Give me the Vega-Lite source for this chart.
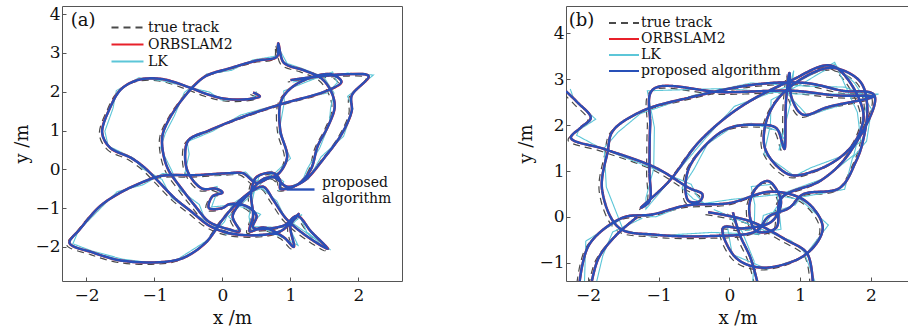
{
"$schema": "https://vega.github.io/schema/vega-lite/v6.json",
"background": "white",
"padding": {"left": 13, "top": 4, "right": 1, "bottom": 0},
"spacing": 164,
"bounds": "flush",
"config": {
 "view": {"stroke": "#555", "strokeWidth": 1},
 "axis": {"grid": false, "domain": false, "labelFont": "DejaVu Serif", "labelFontSize": 17, "labelColor": "#111", "tickColor": "#555", "tickSize": -4, "titleFont": "DejaVu Serif", "titleFontSize": 18, "titleFontWeight": "normal", "titleColor": "#111"},
 "axisY": {"titlePadding": 3, "labelPadding": 6},
 "axisX": {"titlePadding": 6, "labelPadding": 10},
 "legend": {"labelFont": "DejaVu Serif", "labelFontSize": 14, "labelColor": "#111", "symbolType": "M-2,0H2", "symbolStrokeWidth": 2.2, "rowPadding": 0, "padding": 0}
},
"datasets": {
"a": [
{"i":1,"x":0.45,"y":1.98,"tx":0.41,"ty":1.93,"lx":0.49,"ly":2.01},
{"i":2,"x":0.55,"y":1.88,"tx":0.51,"ty":1.83,"lx":0.52,"ly":1.93},
{"i":3,"x":0.30,"y":1.80,"tx":0.26,"ty":1.75,"lx":0.35,"ly":1.78},
{"i":4,"x":0.00,"y":1.83,"tx":-0.04,"ty":1.78,"lx":-0.02,"ly":1.79},
{"i":5,"x":-0.25,"y":1.95,"tx":-0.29,"ty":1.90,"lx":-0.19,"ly":1.99},
{"i":6,"x":-0.50,"y":2.12,"tx":-0.54,"ty":2.07,"lx":-0.55,"ly":2.14},
{"i":7,"x":-0.90,"y":2.33,"tx":-0.94,"ty":2.28,"lx":-0.87,"ly":2.28},
{"i":8,"x":-1.25,"y":2.30,"tx":-1.29,"ty":2.25,"lx":-1.23,"ly":2.36},
{"i":9,"x":-1.50,"y":2.05,"tx":-1.54,"ty":2.00,"lx":-1.56,"ly":2.03},
{"i":10,"x":-1.65,"y":1.60,"tx":-1.69,"ty":1.55,"lx":-1.61,"ly":1.57},
{"i":11,"x":-1.77,"y":0.95,"tx":-1.81,"ty":0.90,"lx":-1.73,"ly":0.98},
{"i":12,"x":-1.65,"y":0.55,"tx":-1.69,"ty":0.50,"lx":-1.68,"ly":0.60},
{"i":13,"x":-1.35,"y":0.30,"tx":-1.39,"ty":0.25,"lx":-1.30,"ly":0.28},
{"i":14,"x":-1.15,"y":0.05,"tx":-1.19,"ty":0.00,"lx":-1.17,"ly":0.01},
{"i":15,"x":-0.95,"y":-0.30,"tx":-0.99,"ty":-0.35,"lx":-0.89,"ly":-0.26},
{"i":16,"x":-0.70,"y":-0.75,"tx":-0.74,"ty":-0.80,"lx":-0.75,"ly":-0.73},
{"i":17,"x":-0.45,"y":-1.10,"tx":-0.49,"ty":-1.15,"lx":-0.42,"ly":-1.15},
{"i":18,"x":-0.20,"y":-1.45,"tx":-0.24,"ty":-1.50,"lx":-0.18,"ly":-1.39},
{"i":19,"x":0.10,"y":-1.65,"tx":0.06,"ty":-1.70,"lx":0.04,"ly":-1.67},
{"i":20,"x":0.50,"y":-1.70,"tx":0.46,"ty":-1.75,"lx":0.54,"ly":-1.73},
{"i":21,"x":0.85,"y":-1.60,"tx":0.81,"ty":-1.65,"lx":0.89,"ly":-1.57},
{"i":22,"x":1.05,"y":-1.30,"tx":1.01,"ty":-1.35,"lx":1.02,"ly":-1.25},
{"i":23,"x":1.12,"y":-1.15,"tx":1.08,"ty":-1.20,"lx":1.17,"ly":-1.17},
{"i":24,"x":1.00,"y":-1.45,"tx":0.96,"ty":-1.50,"lx":0.98,"ly":-1.49},
{"i":25,"x":1.05,"y":-2.00,"tx":1.01,"ty":-2.05,"lx":1.11,"ly":-1.96},
{"i":26,"x":0.90,"y":-1.75,"tx":0.86,"ty":-1.80,"lx":0.85,"ly":-1.73},
{"i":27,"x":0.60,"y":-1.50,"tx":0.56,"ty":-1.55,"lx":0.63,"ly":-1.55},
{"i":28,"x":0.40,"y":-1.60,"tx":0.36,"ty":-1.65,"lx":0.42,"ly":-1.54},
{"i":29,"x":0.45,"y":-1.20,"tx":0.41,"ty":-1.25,"lx":0.39,"ly":-1.22},
{"i":30,"x":0.42,"y":-0.60,"tx":0.38,"ty":-0.65,"lx":0.46,"ly":-0.63},
{"i":31,"x":0.50,"y":-0.20,"tx":0.46,"ty":-0.25,"lx":0.54,"ly":-0.17},
{"i":32,"x":0.75,"y":-0.10,"tx":0.71,"ty":-0.15,"lx":0.72,"ly":-0.05},
{"i":33,"x":0.85,"y":-0.30,"tx":0.81,"ty":-0.35,"lx":0.90,"ly":-0.32},
{"i":34,"x":0.85,"y":-0.50,"tx":0.81,"ty":-0.55,"lx":0.83,"ly":-0.54},
{"i":35,"x":1.10,"y":-0.40,"tx":1.06,"ty":-0.45,"lx":1.16,"ly":-0.36},
{"i":36,"x":1.30,"y":0.00,"tx":1.26,"ty":-0.05,"lx":1.25,"ly":0.02},
{"i":37,"x":1.40,"y":0.60,"tx":1.36,"ty":0.55,"lx":1.43,"ly":0.55},
{"i":38,"x":1.55,"y":1.10,"tx":1.51,"ty":1.05,"lx":1.57,"ly":1.16},
{"i":39,"x":1.65,"y":1.60,"tx":1.61,"ty":1.55,"lx":1.59,"ly":1.58},
{"i":40,"x":1.60,"y":2.00,"tx":1.56,"ty":1.95,"lx":1.64,"ly":1.97},
{"i":41,"x":1.45,"y":2.35,"tx":1.41,"ty":2.30,"lx":1.49,"ly":2.38},
{"i":42,"x":1.20,"y":2.55,"tx":1.16,"ty":2.50,"lx":1.17,"ly":2.60},
{"i":43,"x":0.90,"y":2.75,"tx":0.86,"ty":2.70,"lx":0.95,"ly":2.73},
{"i":44,"x":0.82,"y":3.25,"tx":0.78,"ty":3.20,"lx":0.80,"ly":3.21},
{"i":45,"x":0.80,"y":2.90,"tx":0.76,"ty":2.85,"lx":0.86,"ly":2.94},
{"i":46,"x":0.50,"y":2.80,"tx":0.46,"ty":2.75,"lx":0.45,"ly":2.82},
{"i":47,"x":0.10,"y":2.60,"tx":0.06,"ty":2.55,"lx":0.13,"ly":2.55},
{"i":48,"x":-0.25,"y":2.40,"tx":-0.29,"ty":2.35,"lx":-0.23,"ly":2.46},
{"i":49,"x":-0.50,"y":2.00,"tx":-0.54,"ty":1.95,"lx":-0.56,"ly":1.98},
{"i":50,"x":-0.75,"y":1.40,"tx":-0.79,"ty":1.35,"lx":-0.71,"ly":1.37},
{"i":51,"x":-0.88,"y":0.90,"tx":-0.92,"ty":0.85,"lx":-0.84,"ly":0.93},
{"i":52,"x":-0.88,"y":0.50,"tx":-0.92,"ty":0.45,"lx":-0.91,"ly":0.55},
{"i":53,"x":-0.80,"y":0.00,"tx":-0.84,"ty":-0.05,"lx":-0.75,"ly":-0.02},
{"i":54,"x":-0.60,"y":-0.50,"tx":-0.64,"ty":-0.55,"lx":-0.62,"ly":-0.54},
{"i":55,"x":-0.40,"y":-0.95,"tx":-0.44,"ty":-1.00,"lx":-0.34,"ly":-0.91},
{"i":56,"x":-0.20,"y":-1.35,"tx":-0.24,"ty":-1.40,"lx":-0.25,"ly":-1.33},
{"i":57,"x":0.10,"y":-1.55,"tx":0.06,"ty":-1.60,"lx":0.13,"ly":-1.60},
{"i":58,"x":0.25,"y":-1.60,"tx":0.21,"ty":-1.65,"lx":0.27,"ly":-1.54},
{"i":59,"x":0.15,"y":-1.20,"tx":0.11,"ty":-1.25,"lx":0.09,"ly":-1.22},
{"i":60,"x":0.40,"y":-0.60,"tx":0.36,"ty":-0.65,"lx":0.44,"ly":-0.63},
{"i":61,"x":0.60,"y":-0.25,"tx":0.56,"ty":-0.30,"lx":0.64,"ly":-0.22},
{"i":62,"x":0.80,"y":-0.15,"tx":0.76,"ty":-0.20,"lx":0.77,"ly":-0.10},
{"i":63,"x":0.95,"y":0.30,"tx":0.91,"ty":0.25,"lx":1.00,"ly":0.28},
{"i":64,"x":0.85,"y":1.00,"tx":0.81,"ty":0.95,"lx":0.83,"ly":0.96},
{"i":65,"x":0.85,"y":1.70,"tx":0.81,"ty":1.65,"lx":0.91,"ly":1.74},
{"i":66,"x":0.95,"y":2.00,"tx":0.91,"ty":1.95,"lx":0.90,"ly":2.02},
{"i":67,"x":1.20,"y":2.30,"tx":1.16,"ty":2.25,"lx":1.23,"ly":2.25},
{"i":68,"x":1.60,"y":2.45,"tx":1.56,"ty":2.40,"lx":1.62,"ly":2.51},
{"i":69,"x":1.75,"y":2.25,"tx":1.71,"ty":2.20,"lx":1.69,"ly":2.23},
{"i":70,"x":1.50,"y":2.00,"tx":1.46,"ty":1.95,"lx":1.54,"ly":1.97},
{"i":71,"x":0.90,"y":1.70,"tx":0.86,"ty":1.65,"lx":0.94,"ly":1.73},
{"i":72,"x":0.30,"y":1.35,"tx":0.26,"ty":1.30,"lx":0.27,"ly":1.40},
{"i":73,"x":-0.20,"y":1.00,"tx":-0.24,"ty":0.95,"lx":-0.15,"ly":0.98},
{"i":74,"x":-0.50,"y":0.75,"tx":-0.54,"ty":0.70,"lx":-0.52,"ly":0.71},
{"i":75,"x":-0.55,"y":0.35,"tx":-0.59,"ty":0.30,"lx":-0.49,"ly":0.39},
{"i":76,"x":-0.50,"y":-0.10,"tx":-0.54,"ty":-0.15,"lx":-0.55,"ly":-0.08},
{"i":77,"x":-0.30,"y":-0.50,"tx":-0.34,"ty":-0.55,"lx":-0.27,"ly":-0.55},
{"i":78,"x":-0.10,"y":-0.50,"tx":-0.14,"ty":-0.55,"lx":-0.08,"ly":-0.44},
{"i":79,"x":0.00,"y":-0.60,"tx":-0.04,"ty":-0.65,"lx":-0.06,"ly":-0.62},
{"i":80,"x":-0.15,"y":-0.70,"tx":-0.19,"ty":-0.75,"lx":-0.11,"ly":-0.73},
{"i":81,"x":-0.20,"y":-1.00,"tx":-0.24,"ty":-1.05,"lx":-0.16,"ly":-0.97},
{"i":82,"x":0.00,"y":-1.00,"tx":-0.04,"ty":-1.05,"lx":-0.03,"ly":-0.95},
{"i":83,"x":0.10,"y":-0.90,"tx":0.06,"ty":-0.95,"lx":0.15,"ly":-0.92},
{"i":84,"x":0.35,"y":-0.95,"tx":0.31,"ty":-1.00,"lx":0.33,"ly":-0.99},
{"i":85,"x":0.50,"y":-1.20,"tx":0.46,"ty":-1.25,"lx":0.56,"ly":-1.16},
{"i":86,"x":0.45,"y":-1.50,"tx":0.41,"ty":-1.55,"lx":0.40,"ly":-1.48},
{"i":87,"x":0.90,"y":-1.45,"tx":0.86,"ty":-1.50,"lx":0.93,"ly":-1.50},
{"i":88,"x":1.10,"y":-1.20,"tx":1.06,"ty":-1.25,"lx":1.12,"ly":-1.14},
{"i":89,"x":1.30,"y":-1.60,"tx":1.26,"ty":-1.65,"lx":1.24,"ly":-1.62},
{"i":90,"x":1.55,"y":-2.05,"tx":1.51,"ty":-2.10,"lx":1.59,"ly":-2.08},
{"i":91,"x":1.30,"y":-1.80,"tx":1.26,"ty":-1.85,"lx":1.34,"ly":-1.77},
{"i":92,"x":0.95,"y":-1.30,"tx":0.91,"ty":-1.35,"lx":0.92,"ly":-1.25},
{"i":93,"x":0.75,"y":-0.80,"tx":0.71,"ty":-0.85,"lx":0.80,"ly":-0.82},
{"i":94,"x":0.60,"y":-0.45,"tx":0.56,"ty":-0.50,"lx":0.58,"ly":-0.49},
{"i":95,"x":0.40,"y":-0.60,"tx":0.36,"ty":-0.65,"lx":0.46,"ly":-0.56},
{"i":96,"x":0.20,"y":-0.90,"tx":0.16,"ty":-0.95,"lx":0.15,"ly":-0.88},
{"i":97,"x":0.00,"y":-1.30,"tx":-0.04,"ty":-1.35,"lx":0.03,"ly":-1.35},
{"i":98,"x":-0.25,"y":-1.90,"tx":-0.29,"ty":-1.95,"lx":-0.23,"ly":-1.84},
{"i":99,"x":-0.60,"y":-2.30,"tx":-0.64,"ty":-2.35,"lx":-0.66,"ly":-2.32},
{"i":100,"x":-1.00,"y":-2.40,"tx":-1.04,"ty":-2.45,"lx":-0.96,"ly":-2.43},
{"i":101,"x":-1.50,"y":-2.35,"tx":-1.54,"ty":-2.40,"lx":-1.46,"ly":-2.32},
{"i":102,"x":-1.90,"y":-2.15,"tx":-1.94,"ty":-2.20,"lx":-1.93,"ly":-2.10},
{"i":103,"x":-2.25,"y":-1.90,"tx":-2.29,"ty":-1.95,"lx":-2.20,"ly":-1.92},
{"i":104,"x":-2.10,"y":-1.55,"tx":-2.14,"ty":-1.60,"lx":-2.12,"ly":-1.59},
{"i":105,"x":-1.80,"y":-0.95,"tx":-1.84,"ty":-1.00,"lx":-1.74,"ly":-0.91},
{"i":106,"x":-1.50,"y":-0.60,"tx":-1.54,"ty":-0.65,"lx":-1.55,"ly":-0.58},
{"i":107,"x":-1.20,"y":-0.35,"tx":-1.24,"ty":-0.40,"lx":-1.17,"ly":-0.40},
{"i":108,"x":-0.90,"y":-0.17,"tx":-0.94,"ty":-0.22,"lx":-0.88,"ly":-0.11},
{"i":109,"x":-0.40,"y":-0.15,"tx":-0.44,"ty":-0.20,"lx":-0.46,"ly":-0.17},
{"i":110,"x":0.10,"y":-0.10,"tx":0.06,"ty":-0.15,"lx":0.14,"ly":-0.13},
{"i":111,"x":0.30,"y":-0.10,"tx":0.26,"ty":-0.15,"lx":0.34,"ly":-0.07},
{"i":112,"x":0.50,"y":-0.35,"tx":0.46,"ty":-0.40,"lx":0.47,"ly":-0.30},
{"i":113,"x":0.75,"y":-0.20,"tx":0.71,"ty":-0.25,"lx":0.80,"ly":-0.22},
{"i":114,"x":0.95,"y":-0.45,"tx":0.91,"ty":-0.50,"lx":0.93,"ly":-0.49},
{"i":115,"x":1.20,"y":-0.30,"tx":1.16,"ty":-0.35,"lx":1.26,"ly":-0.26},
{"i":116,"x":1.50,"y":0.30,"tx":1.46,"ty":0.25,"lx":1.45,"ly":0.32},
{"i":117,"x":1.75,"y":0.90,"tx":1.71,"ty":0.85,"lx":1.78,"ly":0.85},
{"i":118,"x":1.90,"y":1.50,"tx":1.86,"ty":1.45,"lx":1.92,"ly":1.56},
{"i":119,"x":1.90,"y":1.90,"tx":1.86,"ty":1.85,"lx":1.84,"ly":1.88},
{"i":120,"x":2.15,"y":2.40,"tx":2.11,"ty":2.35,"lx":2.22,"ly":2.43},
{"i":121,"x":1.80,"y":2.45,"tx":1.76,"ty":2.40,"lx":1.84,"ly":2.48},
{"i":122,"x":1.00,"y":2.30,"tx":0.96,"ty":2.25,"lx":1.03,"ly":2.25}
],
"b": [
{"seg":1,"i":1,"x":-2.31,"y":2.74,"tx":-2.35,"ty":2.69,"lx":-2.25,"ly":2.79},
{"seg":1,"i":2,"x":-2.15,"y":2.50,"tx":-2.19,"ty":2.45,"lx":-2.20,"ly":2.57},
{"seg":1,"i":3,"x":-1.96,"y":2.16,"tx":-2.00,"ty":2.11,"lx":-1.89,"ly":2.13},
{"seg":1,"i":4,"x":-2.10,"y":1.95,"tx":-2.14,"ty":1.90,"lx":-2.13,"ly":1.89},
{"seg":1,"i":5,"x":-2.24,"y":1.72,"tx":-2.28,"ty":1.67,"lx":-2.16,"ly":1.78},
{"seg":1,"i":6,"x":-1.75,"y":1.47,"tx":-1.79,"ty":1.42,"lx":-1.82,"ly":1.50},
{"seg":1,"i":7,"x":-1.04,"y":1.07,"tx":-1.08,"ty":1.02,"lx":-0.99,"ly":1.00},
{"seg":1,"i":8,"x":-0.57,"y":0.63,"tx":-0.61,"ty":0.58,"lx":-0.54,"ly":0.71},
{"seg":1,"i":9,"x":-0.38,"y":0.49,"tx":-0.42,"ty":0.44,"lx":-0.46,"ly":0.46},
{"seg":1,"i":10,"x":-0.42,"y":0.34,"tx":-0.46,"ty":0.29,"lx":-0.36,"ly":0.29},
{"seg":1,"i":11,"x":-0.57,"y":0.34,"tx":-0.61,"ty":0.29,"lx":-0.51,"ly":0.39},
{"seg":1,"i":12,"x":-0.62,"y":0.56,"tx":-0.66,"ty":0.51,"lx":-0.67,"ly":0.63},
{"seg":1,"i":13,"x":-0.57,"y":1.07,"tx":-0.61,"ty":1.02,"lx":-0.50,"ly":1.04},
{"seg":1,"i":14,"x":-0.28,"y":1.65,"tx":-0.32,"ty":1.60,"lx":-0.31,"ly":1.59},
{"seg":1,"i":15,"x":0.00,"y":1.94,"tx":-0.04,"ty":1.89,"lx":0.08,"ly":2.00},
{"seg":1,"i":16,"x":0.38,"y":2.01,"tx":0.34,"ty":1.96,"lx":0.31,"ly":2.04},
{"seg":1,"i":17,"x":0.66,"y":1.94,"tx":0.62,"ty":1.89,"lx":0.71,"ly":1.87},
{"seg":1,"i":18,"x":0.75,"y":1.60,"tx":0.71,"ty":1.55,"lx":0.78,"ly":1.68},
{"seg":1,"i":19,"x":0.78,"y":1.48,"tx":0.74,"ty":1.43,"lx":0.70,"ly":1.45},
{"seg":1,"i":20,"x":0.80,"y":2.50,"tx":0.76,"ty":2.45,"lx":0.86,"ly":2.45},
{"seg":1,"i":21,"x":0.85,"y":3.14,"tx":0.81,"ty":3.09,"lx":0.91,"ly":3.19},
{"seg":1,"i":22,"x":0.88,"y":2.60,"tx":0.84,"ty":2.55,"lx":0.83,"ly":2.67},
{"seg":1,"i":23,"x":1.04,"y":2.23,"tx":1.00,"ty":2.18,"lx":1.11,"ly":2.20},
{"seg":1,"i":24,"x":1.40,"y":2.40,"tx":1.36,"ty":2.35,"lx":1.37,"ly":2.34},
{"seg":1,"i":25,"x":2.03,"y":2.62,"tx":1.99,"ty":2.57,"lx":2.11,"ly":2.68},
{"seg":1,"i":26,"x":1.50,"y":2.65,"tx":1.46,"ty":2.60,"lx":1.43,"ly":2.68},
{"seg":1,"i":27,"x":0.90,"y":2.75,"tx":0.86,"ty":2.70,"lx":0.95,"ly":2.68},
{"seg":1,"i":28,"x":-0.09,"y":2.72,"tx":-0.13,"ty":2.67,"lx":-0.06,"ly":2.80},
{"seg":1,"i":29,"x":-1.08,"y":2.78,"tx":-1.12,"ty":2.73,"lx":-1.16,"ly":2.75},
{"seg":1,"i":30,"x":-1.12,"y":2.00,"tx":-1.16,"ty":1.95,"lx":-1.06,"ly":1.95},
{"seg":1,"i":31,"x":-1.13,"y":1.00,"tx":-1.17,"ty":0.95,"lx":-1.07,"ly":1.05},
{"seg":1,"i":32,"x":-1.13,"y":0.34,"tx":-1.17,"ty":0.29,"lx":-1.18,"ly":0.41},
{"seg":1,"i":33,"x":-1.25,"y":0.20,"tx":-1.29,"ty":0.15,"lx":-1.18,"ly":0.17},
{"seg":1,"i":34,"x":-0.85,"y":0.78,"tx":-0.89,"ty":0.73,"lx":-0.88,"ly":0.72},
{"seg":1,"i":35,"x":-0.42,"y":1.65,"tx":-0.46,"ty":1.60,"lx":-0.34,"ly":1.71},
{"seg":1,"i":36,"x":0.14,"y":2.38,"tx":0.10,"ty":2.33,"lx":0.07,"ly":2.41},
{"seg":1,"i":37,"x":0.85,"y":2.96,"tx":0.81,"ty":2.91,"lx":0.90,"ly":2.89},
{"seg":1,"i":38,"x":1.46,"y":3.29,"tx":1.42,"ty":3.24,"lx":1.49,"ly":3.37},
{"seg":1,"i":39,"x":1.89,"y":2.31,"tx":1.85,"ty":2.26,"lx":1.81,"ly":2.28},
{"seg":1,"i":40,"x":1.80,"y":1.70,"tx":1.76,"ty":1.65,"lx":1.86,"ly":1.65},
{"seg":1,"i":41,"x":1.56,"y":1.29,"tx":1.52,"ty":1.24,"lx":1.62,"ly":1.34},
{"seg":1,"i":42,"x":1.20,"y":1.00,"tx":1.16,"ty":0.95,"lx":1.15,"ly":1.07},
{"seg":1,"i":43,"x":0.85,"y":0.92,"tx":0.81,"ty":0.87,"lx":0.92,"ly":0.89},
{"seg":1,"i":44,"x":0.52,"y":1.43,"tx":0.48,"ty":1.38,"lx":0.49,"ly":1.37},
{"seg":1,"i":45,"x":0.50,"y":1.94,"tx":0.46,"ty":1.89,"lx":0.58,"ly":2.00},
{"seg":1,"i":46,"x":0.66,"y":2.52,"tx":0.62,"ty":2.47,"lx":0.59,"ly":2.55},
{"seg":1,"i":47,"x":1.04,"y":3.03,"tx":1.00,"ty":2.98,"lx":1.09,"ly":2.96},
{"seg":1,"i":48,"x":1.46,"y":3.25,"tx":1.42,"ty":3.20,"lx":1.49,"ly":3.33},
{"seg":1,"i":49,"x":1.85,"y":2.95,"tx":1.81,"ty":2.90,"lx":1.77,"ly":2.92},
{"seg":1,"i":50,"x":1.95,"y":2.40,"tx":1.91,"ty":2.35,"lx":2.01,"ly":2.35},
{"seg":1,"i":51,"x":1.88,"y":1.60,"tx":1.84,"ty":1.55,"lx":1.94,"ly":1.65},
{"seg":1,"i":52,"x":1.79,"y":1.21,"tx":1.75,"ty":1.16,"lx":1.74,"ly":1.28},
{"seg":1,"i":53,"x":1.56,"y":0.63,"tx":1.52,"ty":0.58,"lx":1.63,"ly":0.60},
{"seg":1,"i":54,"x":1.04,"y":0.49,"tx":1.00,"ty":0.44,"lx":1.01,"ly":0.43},
{"seg":1,"i":55,"x":0.85,"y":0.20,"tx":0.81,"ty":0.15,"lx":0.93,"ly":0.26},
{"seg":1,"i":56,"x":0.55,"y":0.00,"tx":0.51,"ty":-0.05,"lx":0.48,"ly":0.03},
{"seg":1,"i":57,"x":0.38,"y":-0.31,"tx":0.34,"ty":-0.36,"lx":0.43,"ly":-0.38},
{"seg":1,"i":58,"x":-0.28,"y":-0.42,"tx":-0.32,"ty":-0.47,"lx":-0.25,"ly":-0.34},
{"seg":1,"i":59,"x":-1.04,"y":-0.39,"tx":-1.08,"ty":-0.44,"lx":-1.12,"ly":-0.42},
{"seg":1,"i":60,"x":-1.56,"y":-0.24,"tx":-1.60,"ty":-0.29,"lx":-1.50,"ly":-0.29},
{"seg":1,"i":61,"x":-1.80,"y":0.60,"tx":-1.84,"ty":0.55,"lx":-1.74,"ly":0.65},
{"seg":1,"i":62,"x":-1.72,"y":1.43,"tx":-1.76,"ty":1.38,"lx":-1.77,"ly":1.50},
{"seg":1,"i":63,"x":-1.65,"y":1.87,"tx":-1.69,"ty":1.82,"lx":-1.58,"ly":1.84},
{"seg":1,"i":64,"x":-1.23,"y":2.31,"tx":-1.27,"ty":2.26,"lx":-1.26,"ly":2.25},
{"seg":1,"i":65,"x":-0.57,"y":2.60,"tx":-0.61,"ty":2.55,"lx":-0.49,"ly":2.66},
{"seg":1,"i":66,"x":0.38,"y":2.89,"tx":0.34,"ty":2.84,"lx":0.31,"ly":2.92},
{"seg":1,"i":67,"x":1.08,"y":2.92,"tx":1.04,"ty":2.87,"lx":1.13,"ly":2.85},
{"seg":1,"i":68,"x":1.60,"y":2.75,"tx":1.56,"ty":2.70,"lx":1.63,"ly":2.83},
{"seg":1,"i":69,"x":2.05,"y":2.65,"tx":2.01,"ty":2.60,"lx":1.97,"ly":2.62},
{"seg":1,"i":70,"x":1.70,"y":1.40,"tx":1.66,"ty":1.35,"lx":1.76,"ly":1.35},
{"seg":1,"i":71,"x":1.30,"y":0.80,"tx":1.26,"ty":0.75,"lx":1.36,"ly":0.85},
{"seg":1,"i":72,"x":0.73,"y":0.40,"tx":0.69,"ty":0.35,"lx":0.68,"ly":0.47},
{"seg":1,"i":73,"x":0.66,"y":-0.24,"tx":0.62,"ty":-0.29,"lx":0.73,"ly":-0.27},
{"seg":1,"i":74,"x":0.38,"y":-0.31,"tx":0.34,"ty":-0.36,"lx":0.35,"ly":-0.37},
{"seg":1,"i":75,"x":0.28,"y":0.20,"tx":0.24,"ty":0.15,"lx":0.36,"ly":0.26},
{"seg":1,"i":76,"x":0.38,"y":0.63,"tx":0.34,"ty":0.58,"lx":0.31,"ly":0.66},
{"seg":1,"i":77,"x":0.55,"y":0.78,"tx":0.51,"ty":0.73,"lx":0.60,"ly":0.71},
{"seg":1,"i":78,"x":0.73,"y":0.34,"tx":0.69,"ty":0.29,"lx":0.76,"ly":0.42},
{"seg":1,"i":79,"x":0.60,"y":-0.10,"tx":0.56,"ty":-0.15,"lx":0.52,"ly":-0.13},
{"seg":1,"i":80,"x":0.20,"y":-0.25,"tx":0.16,"ty":-0.30,"lx":0.26,"ly":-0.30},
{"seg":1,"i":81,"x":-0.09,"y":-0.24,"tx":-0.13,"ty":-0.29,"lx":-0.03,"ly":-0.19},
{"seg":1,"i":82,"x":0.09,"y":-0.89,"tx":0.05,"ty":-0.94,"lx":0.04,"ly":-0.82},
{"seg":1,"i":83,"x":0.47,"y":-1.11,"tx":0.43,"ty":-1.16,"lx":0.54,"ly":-1.14},
{"seg":1,"i":84,"x":1.08,"y":-0.82,"tx":1.04,"ty":-0.87,"lx":1.05,"ly":-0.88},
{"seg":1,"i":85,"x":1.32,"y":-0.24,"tx":1.28,"ty":-0.29,"lx":1.40,"ly":-0.18},
{"seg":1,"i":86,"x":1.08,"y":0.34,"tx":1.04,"ty":0.29,"lx":1.01,"ly":0.37},
{"seg":1,"i":87,"x":0.60,"y":0.55,"tx":0.56,"ty":0.50,"lx":0.65,"ly":0.48},
{"seg":1,"i":88,"x":0.00,"y":0.30,"tx":-0.04,"ty":0.25,"lx":0.03,"ly":0.38},
{"seg":1,"i":89,"x":-0.60,"y":0.25,"tx":-0.64,"ty":0.20,"lx":-0.68,"ly":0.22},
{"seg":1,"i":90,"x":-1.10,"y":0.05,"tx":-1.14,"ty":0.00,"lx":-1.04,"ly":0.00},
{"seg":1,"i":91,"x":-1.51,"y":-0.02,"tx":-1.55,"ty":-0.07,"lx":-1.45,"ly":0.03},
{"seg":1,"i":92,"x":-1.98,"y":-0.60,"tx":-2.02,"ty":-0.65,"lx":-2.03,"ly":-0.53},
{"seg":1,"i":93,"x":-2.12,"y":-1.45,"tx":-2.16,"ty":-1.50,"lx":-2.05,"ly":-1.48},
{"seg":2,"i":94,"x":1.18,"y":-1.45,"tx":1.14,"ty":-1.50,"lx":1.21,"ly":-1.41},
{"seg":2,"i":95,"x":1.10,"y":-0.80,"tx":1.06,"ty":-0.85,"lx":1.05,"ly":-0.75},
{"seg":2,"i":96,"x":0.80,"y":-0.50,"tx":0.76,"ty":-0.55,"lx":0.87,"ly":-0.52},
{"seg":2,"i":97,"x":0.30,"y":-0.10,"tx":0.26,"ty":-0.15,"lx":0.27,"ly":-0.16},
{"seg":2,"i":98,"x":-0.30,"y":0.10,"tx":-0.34,"ty":0.05,"lx":-0.22,"ly":0.16},
{"seg":3,"i":99,"x":0.40,"y":-1.45,"tx":0.36,"ty":-1.50,"lx":0.33,"ly":-1.42},
{"seg":3,"i":100,"x":0.30,"y":-0.90,"tx":0.26,"ty":-0.95,"lx":0.35,"ly":-0.97},
{"seg":3,"i":101,"x":0.15,"y":-0.40,"tx":0.11,"ty":-0.45,"lx":0.18,"ly":-0.32},
{"seg":3,"i":102,"x":0.05,"y":0.10,"tx":0.01,"ty":0.05,"lx":-0.03,"ly":0.07},
{"seg":4,"i":103,"x":-1.95,"y":-1.45,"tx":-1.99,"ty":-1.50,"lx":-1.89,"ly":-1.50},
{"seg":4,"i":104,"x":-1.85,"y":-0.90,"tx":-1.89,"ty":-0.95,"lx":-1.79,"ly":-0.85},
{"seg":4,"i":105,"x":-1.60,"y":-0.40,"tx":-1.64,"ty":-0.45,"lx":-1.65,"ly":-0.33},
{"seg":4,"i":106,"x":-1.30,"y":0.00,"tx":-1.34,"ty":-0.05,"lx":-1.23,"ly":-0.03}
]
},
"resolve": {
 "scale": {"x": "independent", "y": "independent", "color": "independent", "strokeDash": "independent", "strokeWidth": "independent"},
 "legend": {"color": "independent", "strokeDash": "independent", "strokeWidth": "independent"}
},
"hconcat": [
{
 "width": 340, "height": 275,
 "data": {"name": "a"},
 "layer": [
  {"mark": {"type": "line", "interpolate": "catmull-rom", "strokeWidth": 1.2, "clip": true},
   "encoding": {
    "x": {"field": "tx", "type": "quantitative", "title": "x /m", "scale": {"domain": [-2.36, 2.64], "nice": false, "zero": false}, "axis": {"values": [-2, -1, 0, 1, 2], "format": "d"}},
    "y": {"field": "ty", "type": "quantitative", "title": "y /m", "scale": {"domain": [-2.88, 4.21], "nice": false, "zero": false}, "axis": {"values": [-2, -1, 0, 1, 2, 3, 4], "format": "d"}},
    "order": {"field": "i"},
    "color": {"datum": "true track", "type": "nominal", "scale": {"domain": ["true track", "ORBSLAM2", "LK"], "range": ["#4a4a4a", "#e8202a", "#5cc6d8"]}, "legend": {"title": null, "orient": "none", "legendX": 56, "legendY": 12, "symbolSize": 256, "labelOffset": 11}},
    "strokeDash": {"datum": "true track", "type": "nominal", "scale": {"domain": ["true track", "ORBSLAM2", "LK"], "range": [[7, 5], [1, 0], [1, 0]]}, "legend": {"title": null, "orient": "none", "legendX": 56, "legendY": 12, "symbolSize": 256, "labelOffset": 11}}
   }},
  {"mark": {"type": "line", "strokeWidth": 1.1, "clip": true},
   "encoding": {
    "x": {"field": "lx", "type": "quantitative", "title": "x /m"},
    "y": {"field": "ly", "type": "quantitative", "title": "y /m"},
    "order": {"field": "i"},
    "color": {"datum": "LK", "type": "nominal"},
    "strokeDash": {"datum": "LK", "type": "nominal"}
   }},
  {"mark": {"type": "line", "interpolate": "catmull-rom", "strokeWidth": 2.5, "clip": true},
   "encoding": {
    "x": {"field": "x", "type": "quantitative", "title": "x /m"},
    "y": {"field": "y", "type": "quantitative", "title": "y /m"},
    "order": {"field": "i"},
    "color": {"datum": "ORBSLAM2", "type": "nominal"},
    "strokeDash": {"datum": "ORBSLAM2", "type": "nominal"}
   }},
  {"mark": {"type": "line", "interpolate": "catmull-rom", "color": "#2850b8", "clip": true},
   "encoding": {
    "x": {"field": "x", "type": "quantitative", "title": "x /m"},
    "y": {"field": "y", "type": "quantitative", "title": "y /m"},
    "order": {"field": "i"},
    "strokeWidth": {"datum": "proposed algorithm", "type": "nominal", "scale": {"type": "ordinal", "domain": ["proposed algorithm"], "range": [2.4]}, "legend": {"title": null, "orient": "none", "legendX": 230, "legendY": 175, "symbolSize": 196, "labelOffset": 13, "labelBaseline": "bottom", "symbolStrokeColor": "#2850b8", "symbolStrokeWidth": 2.2, "labelExpr": "split(datum.label, ' ')"}}
   }},
  {"data": {"values": [{"label": "(a)"}]},
   "mark": {"type": "text", "align": "left", "baseline": "middle", "fontSize": 18, "font": "DejaVu Serif", "color": "#111"},
   "encoding": {
    "x": {"datum": -2.23, "type": "quantitative"},
    "y": {"datum": 3.82, "type": "quantitative"},
    "text": {"field": "label"}
   }}
 ]
},
{
 "width": 343, "height": 275,
 "data": {"name": "b"},
 "layer": [
  {"mark": {"type": "line", "interpolate": "catmull-rom", "strokeWidth": 1.2, "clip": true},
   "encoding": {
    "x": {"field": "tx", "type": "quantitative", "title": "x /m", "scale": {"domain": [-2.31, 2.54], "nice": false, "zero": false}, "axis": {"values": [-2, -1, 0, 1, 2], "format": "d"}},
    "y": {"field": "ty", "type": "quantitative", "title": "y /m", "scale": {"domain": [-1.4, 4.6], "nice": false, "zero": false}, "axis": {"values": [-1, 0, 1, 2, 3, 4], "format": "d"}},
    "order": {"field": "i"},
    "detail": {"field": "seg"},
    "color": {"datum": "true track", "type": "nominal", "scale": {"domain": ["true track", "ORBSLAM2", "LK", "proposed algorithm"], "range": ["#4a4a4a", "#e8202a", "#5cc6d8", "#2850b8"]}, "legend": {"title": null, "orient": "none", "legendX": 49, "legendY": 8, "symbolSize": 225, "labelOffset": 8}},
    "strokeDash": {"datum": "true track", "type": "nominal", "scale": {"domain": ["true track", "ORBSLAM2", "LK", "proposed algorithm"], "range": [[7, 5], [1, 0], [1, 0], [1, 0]]}, "legend": {"title": null, "orient": "none", "legendX": 49, "legendY": 8, "symbolSize": 225, "labelOffset": 8}}
   }},
  {"mark": {"type": "line", "strokeWidth": 1.1, "clip": true},
   "encoding": {
    "x": {"field": "lx", "type": "quantitative", "title": "x /m"},
    "y": {"field": "ly", "type": "quantitative", "title": "y /m"},
    "order": {"field": "i"},
    "detail": {"field": "seg"},
    "color": {"datum": "LK", "type": "nominal"},
    "strokeDash": {"datum": "LK", "type": "nominal"}
   }},
  {"mark": {"type": "line", "interpolate": "catmull-rom", "strokeWidth": 2.5, "clip": true},
   "encoding": {
    "x": {"field": "x", "type": "quantitative", "title": "x /m"},
    "y": {"field": "y", "type": "quantitative", "title": "y /m"},
    "order": {"field": "i"},
    "detail": {"field": "seg"},
    "color": {"datum": "ORBSLAM2", "type": "nominal"},
    "strokeDash": {"datum": "ORBSLAM2", "type": "nominal"}
   }},
  {"mark": {"type": "line", "interpolate": "catmull-rom", "strokeWidth": 2.4, "clip": true},
   "encoding": {
    "x": {"field": "x", "type": "quantitative", "title": "x /m"},
    "y": {"field": "y", "type": "quantitative", "title": "y /m"},
    "order": {"field": "i"},
    "detail": {"field": "seg"},
    "color": {"datum": "proposed algorithm", "type": "nominal"},
    "strokeDash": {"datum": "proposed algorithm", "type": "nominal"}
   }},
  {"data": {"values": [{"label": "(b)"}]},
   "mark": {"type": "text", "align": "left", "baseline": "middle", "fontSize": 18, "font": "DejaVu Serif", "color": "#111"},
   "encoding": {
    "x": {"datum": -2.27, "type": "quantitative"},
    "y": {"datum": 4.27, "type": "quantitative"},
    "text": {"field": "label"}
   }}
 ]
}
]
}
